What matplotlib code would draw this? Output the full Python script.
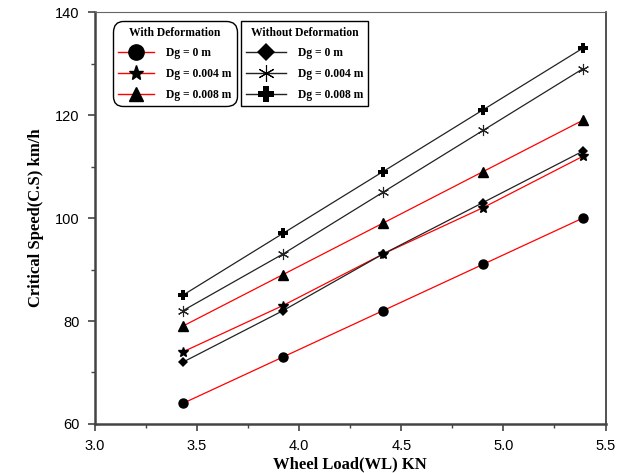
import matplotlib
matplotlib.use("Agg")
import matplotlib.pyplot as plt
from matplotlib.ticker import MultipleLocator

# wheel load (KN) and critical speed (km/h) for each gap depth
wheel_load = [3.43, 3.92, 4.41, 4.90, 5.39]

with_def_0 = [64, 73, 82, 91, 100]
with_def_004 = [74, 83, 93, 102, 112]
with_def_008 = [79, 89, 99, 109, 119]

without_def_0 = [72, 82, 93, 103, 113]
without_def_004 = [82, 93, 105, 117, 129]
without_def_008 = [85, 97, 109, 121, 133]

series_labels = ["Dg = 0 m", "Dg = 0.004 m", "Dg = 0.008 m"]

fig = plt.figure(figsize=(6.18, 4.73), dpi=100)
ax = fig.add_axes([0.1537, 0.1036, 0.8261, 0.871])

red_lines = []
for vals, mk, ms in zip([with_def_0, with_def_004, with_def_008], ["o", "*", "^"], [6.5, 7.5, 6.5]):
    l, = ax.plot(wheel_load, vals, color="red", lw=0.9, marker=mk, ms=ms,
                 mfc="black", mec="black", zorder=3)
    red_lines.append(l)

black_lines = []
for vals, mk, ms, mew in zip([without_def_0, without_def_004, without_def_008], ["D", (6, 2, 0), "P"], [5.5, 8, 7], [0, 0.8, 0]):
    l, = ax.plot(wheel_load, vals, color="#222222", lw=0.9, marker=mk, ms=ms,
                 mfc="black", mec="#222222", mew=mew, zorder=3)
    black_lines.append(l)

ax.set_xlim(3.0, 5.5)
ax.set_ylim(60, 140)
ax.xaxis.set_major_locator(MultipleLocator(0.5))
ax.xaxis.set_minor_locator(MultipleLocator(0.25))
ax.yaxis.set_major_locator(MultipleLocator(20))
ax.yaxis.set_minor_locator(MultipleLocator(10))
ax.tick_params(which="major", direction="out", length=5, width=1.2, color="#444444",
               labelsize=10.5, pad=6)
ax.tick_params(which="minor", direction="out", length=3, width=1, color="#444444")
for lab in ax.get_xticklabels() + ax.get_yticklabels():
    lab.set_fontfamily("Liberation Sans")

ax.spines["left"].set_linewidth(1.8)
ax.spines["bottom"].set_linewidth(1.8)
ax.spines["left"].set_color("#444444")
ax.spines["bottom"].set_color("#444444")
ax.spines["right"].set_linewidth(1.2)
ax.spines["right"].set_color("#333333")
ax.spines["top"].set_linewidth(0.8)
ax.spines["top"].set_color("#666666")

label_font = dict(family="Liberation Serif", weight="bold", size=12)
ax.set_xlabel("Wheel Load(WL) KN", labelpad=2, **label_font)
ax.set_ylabel("Critical Speed(C.S) km/h", labelpad=8, **label_font)

leg_font = dict(family="Liberation Serif", weight="bold", size=8.4)

# legend handles drawn with bigger markers than the curves
def legend_handles(lines, color, sizes):
    hs = []
    for l, s in zip(lines, sizes):
        h, = ax.plot([], [], color=color, lw=1.0, marker=l.get_marker(), ms=s,
                     mfc="black", mec="black", mew=l.get_markeredgewidth())
        hs.append(h)
    return hs

h1 = legend_handles(red_lines, "red", [11, 11, 10])
h2 = legend_handles(black_lines, "#222222", [9, 12, 11])

common = dict(loc="upper left", borderaxespad=0, prop=leg_font,
              title_fontproperties=leg_font, handletextpad=1.0,
              labelspacing=0.75, frameon=True, edgecolor="black", framealpha=1,
              borderpad=0.45)

leg1 = ax.legend(h1, series_labels, title="With Deformation", handlelength=3.1,
                 bbox_to_anchor=(0.035, 0.977), fancybox=True, **common)
leg1.get_frame().set_linewidth(1.0)
leg1.get_frame().set_boxstyle("round", pad=0, rounding_size=0.9)
ax.add_artist(leg1)

leg2 = ax.legend(h2, series_labels, title="Without Deformation", handlelength=3.4,
                 bbox_to_anchor=(0.286, 0.977), fancybox=False, **common)
leg2.get_frame().set_linewidth(1.0)

fig.savefig("out.png", dpi=100)
